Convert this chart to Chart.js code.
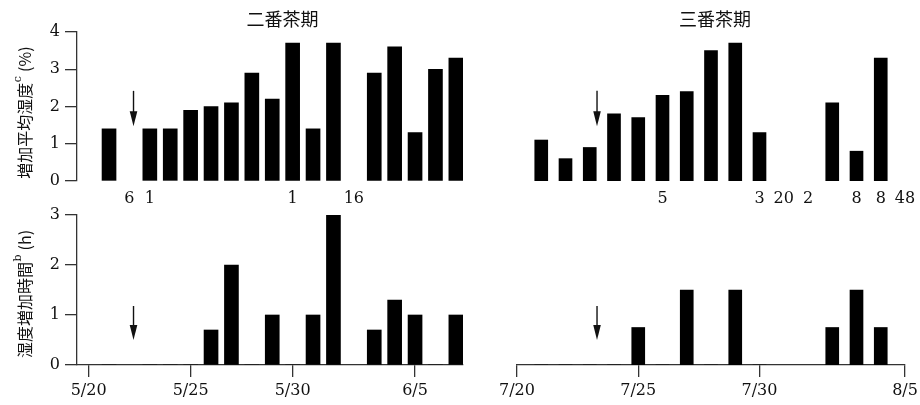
<!DOCTYPE html>
<html>
<head>
<meta charset="utf-8">
<script src="https://cdn.jsdelivr.net/npm/chart.js@4"></script>
<style>
  body { margin: 0; background: #fff; }
  #wrap { position: relative; width: 920px; height: 405px; overflow: hidden; }
  canvas { position: absolute; display: block; }
</style>
</head>
<body>
<div id="wrap">
  <canvas id="tl" width="470" height="210" style="left:0;top:0"></canvas>
  <canvas id="bl" width="470" height="205" style="left:0;top:200px"></canvas>
  <canvas id="tr" width="450" height="210" style="left:470px;top:0"></canvas>
  <canvas id="br" width="450" height="205" style="left:470px;top:200px"></canvas>
</div>
<script>
// 二番茶期 (start 5/20)
const dates2 = ['5/21','5/23','5/24','5/25','5/26','5/27','5/28','5/29','5/30','5/31','6/1','6/3','6/4','6/5','6/6','6/7'];
const humid2 = [1.4, 1.4, 1.4, 1.9, 2.0, 2.1, 2.9, 2.2, 3.7, 1.4, 3.7, 2.9, 3.6, 1.3, 3.0, 3.3];
const hours2 = [0, 0, 0, 0, 0.7, 2.0, 0, 1.0, 0, 1.0, 3.0, 0.7, 1.3, 1.0, 0, 1.0];
const noteDates2 = ['5/22','5/23','5/30','6/2'];
const notes2 = ['6','1','1','16'];
const ticks2 = ['5/20','5/25','5/30','6/5'];

// 三番茶期 (start 7/20)
const dates3 = ['7/21','7/22','7/23','7/24','7/25','7/26','7/27','7/28','7/29','7/30','8/2','8/3','8/4'];
const humid3 = [1.1, 0.6, 0.9, 1.8, 1.7, 2.3, 2.4, 3.5, 3.7, 1.3, 2.1, 0.8, 3.3];
const hours3 = [0, 0, 0, 0, 0.75, 0, 1.5, 0, 1.5, 0, 0.75, 1.5, 0.75];
const noteDates3 = ['7/26','7/30','7/31','8/1','8/3','8/4','8/5'];
const notes3 = ['5','3','20','2','8','8','48'];
const ticks3 = ['7/20','7/25','7/30','8/5'];

const INK = '#111';
const SERIF = '"DejaVu Serif", serif';
const JP = '"Noto Sans CJK JP", "DejaVu Sans", sans-serif';

function dayOffset(md, start) {
  const [m, d] = md.split('/').map(Number);
  const [sm, sd] = start.split('/').map(Number);
  return Math.round((new Date(2000, m - 1, d) - new Date(2000, sm - 1, sd)) / 86400000);
}

// arrows, numbers under the bars, titles
const decor = {
  id: 'decor',
  afterDatasetsDraw(chart, args, o) {
    const { ctx, chartArea } = chart;
    const x = chart.scales.x, y = chart.scales.y;
    ctx.save();
    ctx.fillStyle = INK;
    ctx.strokeStyle = INK;

    if (o.arrow) {
      const ax = x.getPixelForValue(o.arrow.day);
      const y0 = y.getPixelForValue(o.arrow.from);
      const y1 = y.getPixelForValue(o.arrow.to);
      ctx.lineWidth = 1.4;
      ctx.beginPath(); ctx.moveTo(ax, y0); ctx.lineTo(ax, y1 - 10); ctx.stroke();
      ctx.beginPath();
      ctx.moveTo(ax - 3.8, y1 - 15); ctx.lineTo(ax + 3.8, y1 - 15); ctx.lineTo(ax, y1);
      ctx.closePath(); ctx.fill();
    }

    if (o.notes) {
      ctx.font = '16px ' + SERIF;
      ctx.textAlign = 'center';
      ctx.textBaseline = 'middle';
      o.notes.dates.forEach((d, i) => {
        ctx.fillText(o.notes.text[i], x.getPixelForValue(dayOffset(d, o.start)), chartArea.bottom + 18);
      });
    }

    if (o.title) {
      ctx.font = '18px ' + JP;
      ctx.textAlign = 'center';
      ctx.textBaseline = 'middle';
      ctx.fillText(o.title.text, x.getPixelForValue(o.title.day), 19);
    }

    if (o.yTitle) {
      const [main, sup, rest] = o.yTitle;
      const big = '16px ' + JP, small = '11px ' + SERIF;
      ctx.textBaseline = 'middle';
      ctx.textAlign = 'left';
      ctx.font = big;
      const w1 = ctx.measureText(main).width;
      const w3 = ctx.measureText(rest).width;
      ctx.font = small;
      const w2 = ctx.measureText(sup).width + 1;
      const total = w1 + w2 + w3;
      ctx.translate(25, (chartArea.top + chartArea.bottom) / 2 + o.yTitleShift);
      ctx.rotate(-Math.PI / 2);
      let cx = -total / 2;
      ctx.font = big;
      ctx.fillText(main, cx, 0); cx += w1;
      ctx.font = small;
      ctx.fillText(sup, cx + 0.5, -6.5); cx += w2;
      ctx.font = big;
      ctx.fillText(rest, cx, 0);
    }
    ctx.restore();
  }
};

function makePanel(id, p) {
  const pts = p.dates.map((d, i) => ({ x: dayOffset(d, p.start), y: p.values[i] }));
  const tickDays = p.tickLabels ? p.tickLabels.map(t => dayOffset(t, p.start)) : [];
  new Chart(document.getElementById(id), {
    type: 'bar',
    data: {
      datasets: [{
        data: pts,
        backgroundColor: '#000',
        borderWidth: 0,
        barThickness: p.barWidth
      }]
    },
    plugins: [decor],
    options: {
      responsive: false,
      animation: false,
      layout: { padding: p.padding },
      scales: {
        x: {
          type: 'linear',
          display: p.showX,
          min: p.xMin,
          max: p.xMax,
          offset: false,
          afterBuildTicks: s => { s.ticks = tickDays.map(v => ({ value: v })); },
          afterFit: s => {
            if (!p.showX) return;
            s.height = 40; s.paddingLeft = 0; s.paddingRight = 0;
          },
          ticks: {
            autoSkip: false,
            maxRotation: 0,
            padding: 4,
            color: INK,
            font: { family: SERIF, size: 16 },
            callback: (v, i) => p.tickLabels[i]
          },
          grid: { offset: false, drawOnChartArea: false, drawTicks: true, tickLength: 12, color: '#333', lineWidth: 1.3 },
          border: { display: true, color: '#333', width: 1.3 }
        },
        y: {
          display: p.showY,
          min: 0,
          max: p.yMax,
          afterFit: s => { if (p.showY) s.width = 77; },
          ticks: { stepSize: 1, padding: 5, color: INK, font: { family: SERIF, size: 16 } },
          grid: { drawOnChartArea: false, drawTicks: true, tickLength: 12, color: '#333', lineWidth: 1.3 },
          border: { display: true, color: '#333', width: 1.3 }
        }
      },
      plugins: {
        legend: { display: false },
        tooltip: { enabled: false },
        decor: p.decor
      }
    }
  });
}

makePanel('tl', {
  dates: dates2, values: humid2, start: '5/20', xMin: -0.57, xMax: 18.35, yMax: 4,
  barWidth: 14, showX: false, showY: true,
  padding: { left: 0, right: 7, top: 32, bottom: 29 },
  decor: {
    start: '5/20',
    arrow: { day: 2.2, from: 2.42, to: 1.47 },
    notes: { dates: noteDates2, text: notes2 },
    title: { text: '二番茶期', day: 9.5 },
    yTitle: ['増加平均湿度', 'c', ' (%)'],
    yTitleShift: 6
  }
});

makePanel('bl', {
  dates: dates2, values: hours2, start: '5/20', xMin: -0.57, xMax: 18.35, yMax: 3,
  barWidth: 14, showX: true, showY: true, tickLabels: ticks2,
  padding: { left: 0, right: 7, top: 15, bottom: 0 },
  decor: {
    start: '5/20',
    arrow: { day: 2.2, from: 1.18, to: 0.5 },
    yTitle: ['湿度増加時間', 'b', ' (h)'],
    yTitleShift: 4
  }
});

makePanel('tr', {
  dates: dates3, values: humid3, start: '7/20', xMin: 0, xMax: 16, yMax: 4,
  barWidth: 13, showX: false, showY: false,
  padding: { left: 47, right: 15, top: 32, bottom: 29 },
  decor: {
    start: '7/20',
    arrow: { day: 3.3, from: 2.42, to: 1.47 },
    notes: { dates: noteDates3, text: notes3 },
    title: { text: '三番茶期', day: 8.16 }
  }
});

makePanel('br', {
  dates: dates3, values: hours3, start: '7/20', xMin: 0, xMax: 16, yMax: 3,
  barWidth: 13, showX: true, showY: false, tickLabels: ticks3,
  padding: { left: 47, right: 15, top: 15, bottom: 0 },
  decor: {
    start: '7/20',
    arrow: { day: 3.3, from: 1.18, to: 0.5 }
  }
});
</script>
</body>
</html>
